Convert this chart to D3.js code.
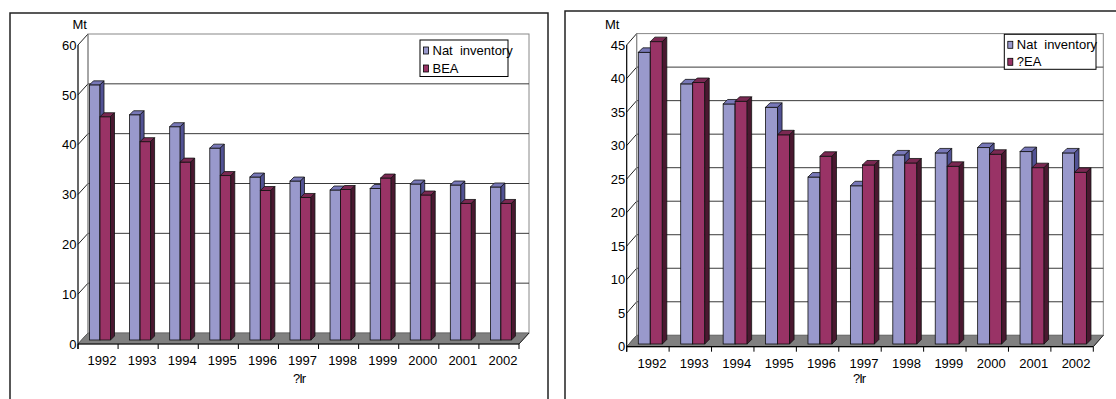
<!DOCTYPE html>
<html><head><meta charset="utf-8">
<script src="https://cdn.jsdelivr.net/npm/d3@7"></script>
<style>body{margin:0;background:#fff}svg{display:block}text{font-family:"Liberation Sans",Arial,sans-serif;font-size:13px;fill:#000}</style>
</head><body>
<svg id="c" width="1116" height="399"></svg>
<script>
const years = ['1992','1993','1994','1995','1996','1997','1998','1999','2000','2001','2002'];
const natLeft  = [51.2,45.2,42.8,38.5,32.7,31.9,30.1,30.4,31.3,31.1,30.7];
const beaLeft  = [44.8,39.8,35.7,33.0,30.0,28.6,30.2,32.5,29.1,27.4,27.4];
const natRight = [43.5,38.8,35.8,35.3,24.9,23.6,28.2,28.5,29.3,28.7,28.5];
const beaRight = [45.1,39.0,36.2,31.2,28.0,26.7,27.0,26.5,28.3,26.3,25.6];
const ticksLeft  = [0,10,20,30,40,50,60];
const ticksRight = [0,5,10,15,20,25,30,35,40,45];
const legendLeft  = ['Nat  inventory','BEA'];
const legendRight = ['Nat  inventory','?EA'];
const unitLabel = 'Mt';
const xTitle = '?Ir';

const colors = {
  nat: {front:'#9999cc', top:'#7878b8', side:'#525294'},
  bea: {front:'#993366', top:'#7a2852', side:'#4a1830'}
};

const svg = d3.select('#c');

function drawChart(cfg){
  const g = svg.append('g');
  // panel border
  g.append('rect').attr('x',cfg.panel[0]).attr('y',cfg.panel[1]).attr('width',cfg.panel[2]).attr('height',cfg.panel[3])
    .attr('fill','#fff').attr('stroke','#222').attr('stroke-width',1.5);
  const x = d3.scaleBand().domain(years).range([cfg.x0,cfg.x1]);
  const y = d3.scaleLinear().domain([0,cfg.max]).range([cfg.yBase,cfg.yTop]);
  const dx = cfg.depth[0], dy = cfg.depth[1];
  const x0=cfg.x0, x1=cfg.x1, yb=y(0), yt=y(cfg.max);
  // back wall
  g.append('rect').attr('x',x0+dx).attr('y',yt+dy).attr('width',x1-x0).attr('height',yb-yt)
    .attr('fill','#fff').attr('stroke','#888').attr('stroke-width',1);
  // gridlines on back wall
  g.selectAll('.grid').data(cfg.ticks.filter(t=>t>0 && t<cfg.max)).enter().append('line')
    .attr('x1',x0+dx).attr('x2',x1+dx).attr('y1',d=>y(d)+dy).attr('y2',d=>y(d)+dy)
    .attr('stroke','#3a3a3a').attr('stroke-width',1);
  // side wall diagonals
  g.selectAll('.diag').data(cfg.ticks).enter().append('line')
    .attr('x1',x0).attr('x2',x0+dx).attr('y1',d=>y(d)).attr('y2',d=>y(d)+dy)
    .attr('stroke','#222').attr('stroke-width',1);
  // floor
  g.append('path').attr('d',`M${x0},${yb}L${x0+dx},${yb+dy}L${x1+dx},${yb+dy}L${x1},${yb}Z`)
    .attr('fill','#808080').attr('stroke','#666').attr('stroke-width',0.8);
  // bars
  const sub = d3.scaleBand().domain(['nat','bea']).range([cfg.barOff, cfg.barOff+2*cfg.barW]);
  const bd = cfg.barDepth;
  years.forEach((yr,i)=>{
    [['nat',cfg.nat[i]],['bea',cfg.bea[i]]].forEach(([k,v])=>{
      const bx = x(yr)+sub(k), bw = sub.bandwidth();
      const ty = y(v)+cfg.barShift, by = y(0)+cfg.barShift;
      const c = colors[k];
      g.append('rect').attr('x',bx).attr('y',ty).attr('width',bw).attr('height',by-ty)
        .attr('fill',c.front).attr('stroke','#111').attr('stroke-width',0.8);
      g.append('path').attr('d',`M${bx},${ty}L${bx+bd},${ty-bd}L${bx+bw+bd},${ty-bd}L${bx+bw},${ty}Z`)
        .attr('fill',c.top).attr('stroke','#111').attr('stroke-width',0.8);
      g.append('path').attr('d',`M${bx+bw},${ty}L${bx+bw+bd},${ty-bd}L${bx+bw+bd},${by-bd}L${bx+bw},${by}Z`)
        .attr('fill',c.side).attr('stroke','#111').attr('stroke-width',0.8);
    });
  });
  // back-wall left edge
  g.append('line').attr('x1',x0+dx).attr('x2',x0+dx).attr('y1',yt+dy).attr('y2',yb+dy).attr('stroke','#888');
  // axes lines
  g.append('line').attr('x1',x0).attr('x2',x0).attr('y1',yt).attr('y2',yb+5).attr('stroke','#000').attr('stroke-width',1.2);
  g.append('line').attr('x1',x0).attr('x2',x1).attr('y1',yb).attr('y2',yb).attr('stroke','#000').attr('stroke-width',1.2);
  g.append('line').attr('x1',x1).attr('x2',x1+dx).attr('y1',yb).attr('y2',yb+dy).attr('stroke','#222');
  const bounds = years.map(d=>x(d)).concat([x1]);
  g.selectAll('.xt').data(bounds).enter().append('line')
    .attr('x1',d=>d).attr('x2',d=>d).attr('y1',yb).attr('y2',yb+5).attr('stroke','#000');
  // y labels
  g.selectAll('.yl').data(cfg.ticks).enter().append('text')
    .attr('x',x0-1.5).attr('y',d=>y(d)).attr('dy','0.36em').attr('text-anchor','end').text(d=>d);
  // x labels
  g.selectAll('.xl').data(years).enter().append('text')
    .attr('x',d=>x(d)+x.bandwidth()/2+4).attr('y',yb+21).attr('text-anchor','middle').text(d=>d);
  // unit
  g.append('text').attr('x',cfg.unitX).attr('y',cfg.yTop-16).text(unitLabel);
  // x title
  g.append('text').attr('x',cfg.titleX).attr('y',383).attr('letter-spacing','-1px').text(xTitle);
  // legend
  const L = cfg.legend;
  g.append('rect').attr('x',L.x).attr('y',L.y).attr('width',L.w).attr('height',L.h)
    .attr('fill','#fff').attr('stroke','#000').attr('stroke-width',1);
  ['nat','bea'].forEach((k,i)=>{
    const ry = L.y + L.rowY[i];
    g.append('rect').attr('x',L.x+3.5).attr('y',ry-7.5).attr('width',5).attr('height',7)
      .attr('fill',colors[k].front).attr('stroke','#000').attr('stroke-width',0.8);
    g.append('text').attr('x',L.x+12.5).attr('y',ry).style('white-space','pre').text(L.labels[i]);
  });
}

drawChart({
  panel:[10,13,538,400], x0:78, x1:519, yBase:344, yTop:45, max:60, ticks:ticksLeft,
  depth:[10,-11], barOff:11.5, barW:10.5, barShift:-4, barDepth:4,
  nat:natLeft, bea:beaLeft, unitX:72.5, titleX:293,
  legend:{x:420,y:40,w:88,h:36.5,rowY:[14.5,32.5],labels:legendLeft}
});
drawChart({
  panel:[565,11,560,400], x0:626.7, x1:1093.3, yBase:346.7, yTop:45, max:45, ticks:ticksRight,
  depth:[10,-11.4], barOff:11.6, barW:12, barShift:-2.7, barDepth:4.5,
  nat:natRight, bea:beaRight, unitX:605, titleX:853,
  legend:{x:1004.3,y:34.3,w:91.7,h:35,rowY:[14.5,31.5],labels:legendRight}
});
</script>
</body></html>
